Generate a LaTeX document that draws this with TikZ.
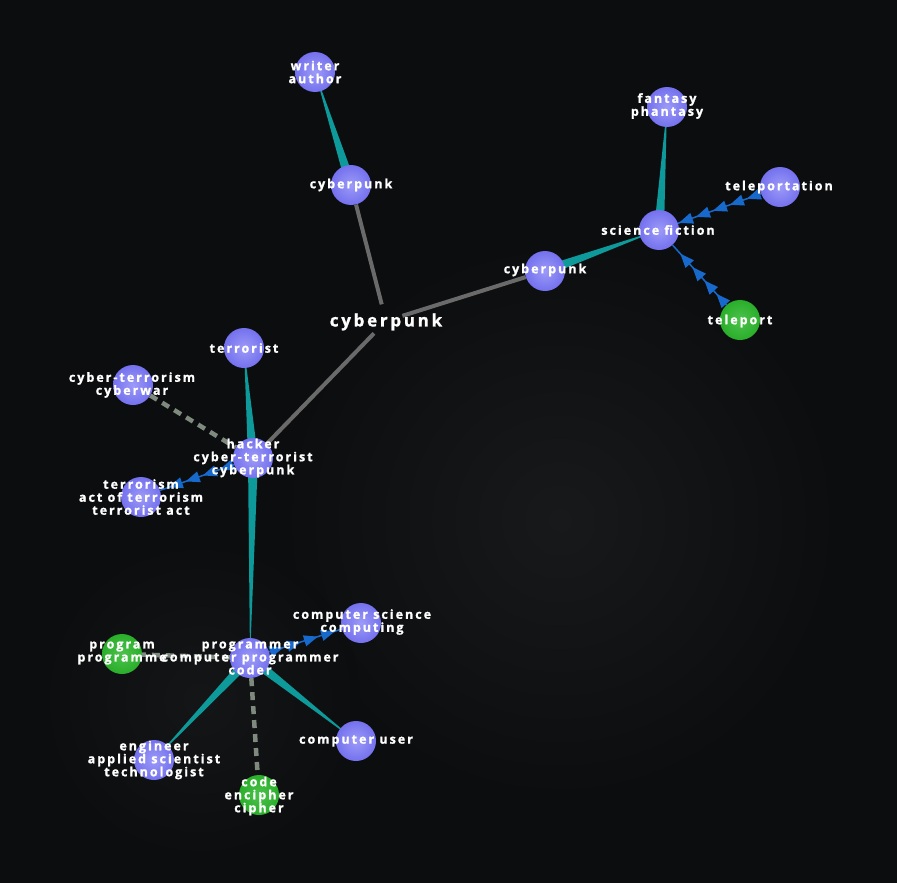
\documentclass[tikz,border=0pt]{standalone}
\usepackage{fontspec}
\newfontfamily\lblfont[LetterSpace=16, UprightFont={* Bold}, FakeBold=1.2]{Open Sans}
\usetikzlibrary{arrows.meta,decorations.markings,calc}
\definecolor{bgc}{HTML}{0C0D0F}
\definecolor{bglight}{HTML}{18191A}
\definecolor{ballc}{HTML}{7471EE}
\definecolor{ballhi}{HTML}{9C9AF8}
\definecolor{greenc}{HTML}{2AAE2A}
\definecolor{greenhi}{HTML}{4CC24C}
\definecolor{tealc}{HTML}{0E9A9A}
\definecolor{edgegray}{HTML}{6A6A6A}
\definecolor{dashgray}{HTML}{7E8A7E}
\definecolor{arrowblue}{HTML}{1769CC}
\pgfdeclarelayer{bglayer}
\pgfdeclarelayer{edgelayer}
\pgfsetlayers{bglayer,edgelayer,main}
\tikzset{
  ball/.style={circle, minimum size=40pt, inner sep=0pt, shading=radial, inner color=ballhi, outer color=ballc},
  gball/.style={circle, minimum size=40pt, inner sep=0pt, shading=radial, inner color=greenhi, outer color=greenc},
  hubnode/.style={circle, minimum size=34pt, inner sep=0pt},
  lbl/.style={text=white, font=\lblfont\fontsize{12.5}{13}\selectfont, align=center, inner sep=0pt},
  biglbl/.style={text=white, font=\lblfont\fontsize{17}{18}\selectfont, inner sep=0pt},
  grayedge/.style={draw=edgegray, line width=4pt},
  dashedge/.style={draw=dashgray, line width=4.5pt, dash pattern=on 8pt off 6pt},
  arrowedge/.style={draw=arrowblue, line width=1.5pt, postaction={decorate},
    decoration={markings, mark=between positions 15pt and 1 step 18pt with {\arrow[arrowblue]{Triangle[length=14pt,width=11pt]}}}},
}
\newcommand{\wedgeedge}[2]{%
  \fill[tealc] (#1.center) -- ($(#2.center)!5pt!90:(#1.center)$) -- ($(#2.center)!5pt!-90:(#1.center)$) -- cycle;}
\begin{document}
\begin{tikzpicture}[x=1pt,y=-1pt]
\begin{pgfonlayer}{bglayer}
  \fill[bgc] (0,0) rectangle (897,883);
  \shade[inner color=bglight, outer color=bgc] (560,520) circle (280);
  \shade[inner color=bglight!70!bgc, outer color=bgc] (200,700) circle (160);
\end{pgfonlayer}
\useasboundingbox (0,0) rectangle (897,883);

% circles
\node[ball] (wa) at (315,72) {};
\node[ball] (cu) at (351,185) {};
\node[hubnode] (hub) at (386,321) {};
\node[ball] (cr) at (545,271) {};
\node[ball] (sf) at (659,230) {};
\node[ball] (fp) at (667,107) {};
\node[ball] (tpn) at (780,187) {};
\node[gball] (tp) at (740,320) {};
\node[ball] (tr) at (244,348) {};
\node[ball] (ct) at (133,385) {};
\node[ball] (hk) at (253,458) {};
\node[ball] (ts) at (141,497) {};
\node[ball] (pg) at (250,658) {};
\node[gball] (pm) at (122,654) {};
\node[ball] (cs) at (361,623) {};
\node[ball] (cus) at (356,741) {};
\node[ball] (en) at (154,760) {};
\node[gball] (cd) at (259,795) {};

% edges
\begin{pgfonlayer}{edgelayer}
  \wedgeedge{wa}{cu}
  \draw[grayedge] (cu) -- (hub);
  \draw[grayedge] (hub) -- (cr);
  \draw[grayedge] (hub) -- (hk);
  \wedgeedge{sf}{cr}
  \wedgeedge{fp}{sf}
  \draw[arrowedge] (tpn) -- (sf);
  \draw[arrowedge] (tp) -- (sf);
  \wedgeedge{tr}{hk}
  \draw[dashedge] (ct) -- (hk);
  \draw[arrowedge] (hk) -- (ts);
  \wedgeedge{pg}{hk}
  \draw[arrowedge] (pg) -- (cs);
  \draw[dashedge] (pg) -- (pm);
  \draw[dashedge] (pg) -- (cd);
  \wedgeedge{en}{pg}
  \wedgeedge{cus}{pg}
\end{pgfonlayer}

% labels
\node[lbl] (wa-l) at (315,72) {writer\\author};
\node[lbl] (cu-l) at (351,185) {cyberpunk};
\node[biglbl] (hub-l) at (386,322) {cyberpunk};
\node[lbl] (cr-l) at (545,270) {cyberpunk};
\node[lbl] (sf-l) at (658,230) {science fiction};
\node[lbl] (fp-l) at (667,106) {fantasy\\phantasy};
\node[lbl] (tpn-l) at (779,187) {teleportation};
\node[lbl] (tp-l) at (740,321) {teleport};
\node[lbl] (tr-l) at (244,348) {terrorist};
\node[lbl] (ct-l) at (132,385) {cyber-terrorism\\cyberwar};
\node[lbl] (hk-l) at (253,458) {hacker\\cyber-terrorist\\cyberpunk};
\node[lbl] (ts-l) at (141,497) {terrorism\\act of terrorism\\terrorist act};
\node[lbl] (cs-l) at (362,622) {computer science\\computing};
\node[lbl] (pm-l) at (122,653) {program\\programme};
\node[lbl] (pg-l) at (250,658) {programmer\\computer programmer\\coder};
\node[lbl] (cus-l) at (356,741) {computer user};
\node[lbl] (en-l) at (154,760) {engineer\\applied scientist\\technologist};
\node[lbl] (cd-l) at (259,796) {code\\encipher\\cipher};
\end{tikzpicture}
\end{document}
